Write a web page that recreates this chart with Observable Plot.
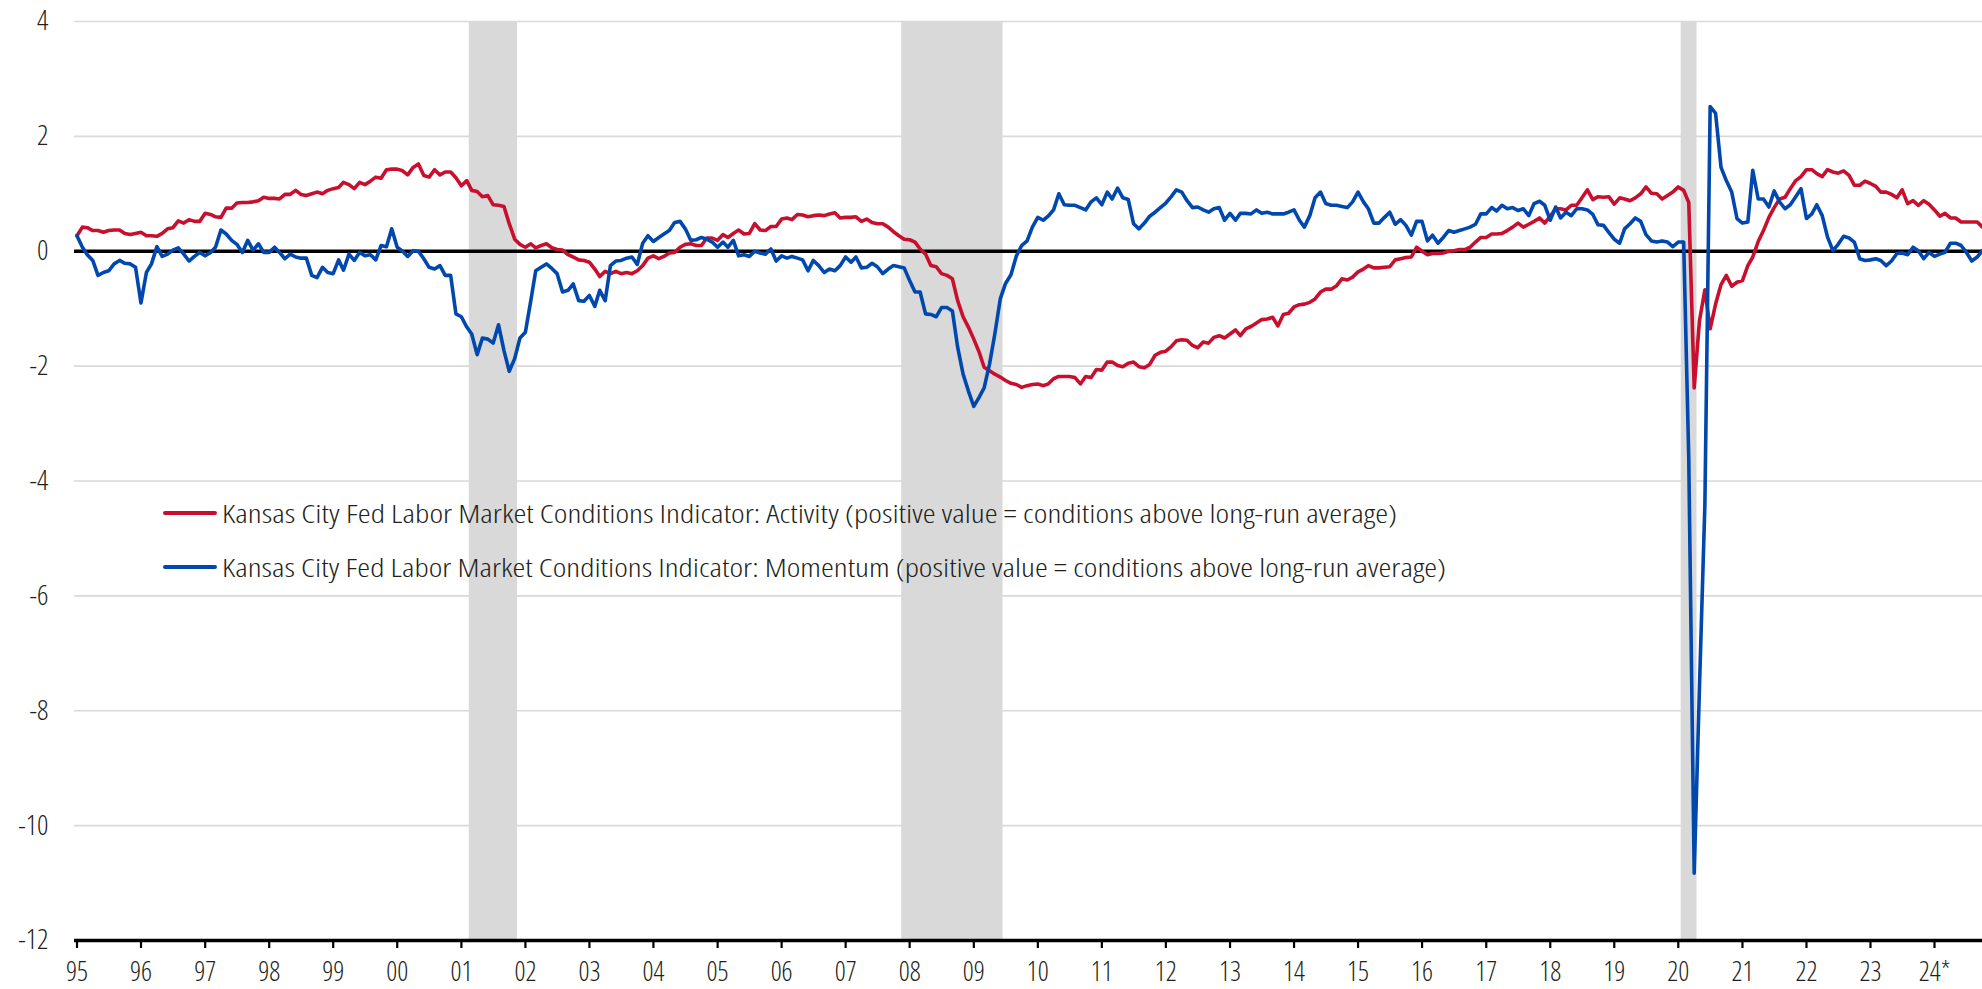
<!DOCTYPE html>
<html>
<head>
<meta charset="utf-8">
<script src="https://cdn.jsdelivr.net/npm/d3@7"></script>
<script src="https://cdn.jsdelivr.net/npm/@observablehq/plot@0.6"></script>
<style>
  html, body { margin: 0; padding: 0; background: #fff; }
  #wrap { position: relative; width: 1982px; height: 989px; overflow: hidden; }
  .font { font-family: "Open Sans", Roboto, "Liberation Sans", sans-serif; font-stretch: 87.5%; font-weight: 300; color: #231f20; }
  .sw { position: absolute; left: 163px; width: 54px; height: 4px; border-radius: 2px; }
  .lbl { position: absolute; left: 222px; font-size: 26px; line-height: 26px; white-space: nowrap; transform-origin: 0 50%; }
</style>
</head>
<body>
<div id="wrap"></div>
<script>
// ---- data (monthly, Jan 1995 - Oct 2024) ----
const startYear = 1995;
const activity = [
  0.27,0.42,0.41,0.36,0.36,0.33,0.36,0.37,0.37,0.31,0.29,0.31,        // 1995
  0.33,0.27,0.27,0.26,0.31,0.39,0.41,0.53,0.49,0.55,0.52,0.52,        // 1996
  0.66,0.64,0.60,0.59,0.75,0.75,0.84,0.85,0.85,0.86,0.88,0.94,        // 1997
  0.92,0.92,0.91,0.99,0.99,1.06,0.99,0.97,1.00,1.03,1.00,1.06,        // 1998
  1.09,1.11,1.20,1.16,1.09,1.20,1.16,1.22,1.29,1.27,1.42,1.43,        // 1999
  1.43,1.40,1.33,1.46,1.52,1.32,1.29,1.42,1.33,1.38,1.38,1.28,        // 2000
  1.14,1.23,1.06,1.04,0.95,0.97,0.81,0.80,0.78,0.48,0.21,0.12,        // 2001
  0.07,0.13,0.06,0.10,0.13,0.06,0.03,0.02,-0.06,-0.10,-0.15,-0.16,    // 2002
  -0.19,-0.31,-0.44,-0.35,-0.39,-0.35,-0.39,-0.37,-0.39,-0.34,-0.25,-0.12, // 2003
  -0.08,-0.13,-0.09,-0.03,-0.02,0.07,0.12,0.13,0.10,0.10,0.23,0.23,   // 2004
  0.19,0.29,0.24,0.31,0.37,0.30,0.31,0.48,0.37,0.36,0.43,0.43,        // 2005
  0.56,0.58,0.55,0.64,0.63,0.60,0.62,0.63,0.62,0.65,0.67,0.58,        // 2006
  0.59,0.59,0.60,0.52,0.56,0.50,0.48,0.48,0.42,0.34,0.27,0.21,        // 2007
  0.20,0.16,0.04,-0.05,-0.25,-0.27,-0.39,-0.42,-0.48,-0.86,-1.14,-1.32, // 2008
  -1.53,-1.76,-2.02,-2.08,-2.14,-2.19,-2.25,-2.30,-2.32,-2.37,-2.34,-2.32, // 2009
  -2.31,-2.34,-2.31,-2.22,-2.18,-2.18,-2.18,-2.20,-2.31,-2.18,-2.20,-2.06, // 2010
  -2.07,-1.93,-1.93,-1.99,-2.01,-1.95,-1.93,-2.01,-2.03,-1.97,-1.81,-1.76, // 2011
  -1.74,-1.66,-1.56,-1.54,-1.55,-1.64,-1.68,-1.58,-1.60,-1.50,-1.47,-1.51, // 2012
  -1.44,-1.37,-1.47,-1.35,-1.31,-1.25,-1.19,-1.18,-1.15,-1.30,-1.10,-1.08, // 2013
  -0.97,-0.93,-0.92,-0.89,-0.83,-0.71,-0.66,-0.66,-0.60,-0.48,-0.50,-0.45, // 2014
  -0.36,-0.31,-0.25,-0.29,-0.29,-0.28,-0.27,-0.15,-0.13,-0.11,-0.10,0.07,  // 2015
  0.00,-0.06,-0.04,-0.04,-0.03,0.00,0.01,0.03,0.03,0.07,0.16,0.24,    // 2016
  0.24,0.30,0.30,0.31,0.36,0.42,0.49,0.42,0.47,0.52,0.58,0.49,        // 2017
  0.61,0.74,0.74,0.72,0.80,0.80,0.93,1.07,0.90,0.95,0.94,0.95,        // 2018
  0.82,0.93,0.91,0.88,0.93,1.00,1.12,1.01,1.00,0.91,0.97,1.03,        // 2019
  1.12,1.06,0.85,-2.38,-1.21,-0.67,-1.35,-0.92,-0.58,-0.42,-0.61,-0.54, // 2020
  -0.51,-0.25,-0.10,0.17,0.36,0.59,0.76,0.91,0.94,1.09,1.23,1.30,     // 2021
  1.42,1.42,1.35,1.30,1.42,1.38,1.36,1.40,1.32,1.15,1.15,1.22,        // 2022
  1.18,1.13,1.03,1.03,0.99,0.93,1.07,0.83,0.88,0.80,0.88,0.82,        // 2023
  0.72,0.61,0.66,0.58,0.58,0.51,0.51,0.51,0.51,0.42                   // 2024
];
const momentum = [
  0.27,0.07,-0.06,-0.16,-0.42,-0.37,-0.34,-0.22,-0.16,-0.21,-0.22,-0.28, // 1995
  -0.90,-0.37,-0.22,0.08,-0.09,-0.05,0.02,0.06,-0.05,-0.17,-0.09,-0.02,  // 1996
  -0.08,-0.02,0.07,0.37,0.30,0.19,0.12,-0.02,0.19,0.02,0.13,-0.02,      // 1997
  -0.02,0.07,-0.02,-0.13,-0.05,-0.10,-0.12,-0.12,-0.42,-0.46,-0.28,-0.37, // 1998
  -0.39,-0.15,-0.33,-0.05,-0.16,-0.02,-0.08,-0.06,-0.15,0.10,0.08,0.39,  // 1999
  0.07,0.00,-0.09,0.01,0.00,-0.13,-0.28,-0.31,-0.25,-0.42,-0.42,-1.09,   // 2000
  -1.14,-1.32,-1.44,-1.80,-1.51,-1.53,-1.60,-1.28,-1.73,-2.09,-1.87,-1.51, // 2001
  -1.41,-0.86,-0.34,-0.28,-0.22,-0.30,-0.39,-0.71,-0.68,-0.57,-0.86,-0.87, // 2002
  -0.77,-0.96,-0.68,-0.86,-0.25,-0.17,-0.16,-0.12,-0.10,-0.23,0.14,0.27,  // 2003
  0.17,0.24,0.30,0.36,0.50,0.52,0.39,0.19,0.20,0.24,0.21,0.16,          // 2004
  0.07,0.16,0.07,0.19,-0.08,-0.06,-0.09,0.00,-0.03,-0.05,0.04,-0.17,    // 2005
  -0.08,-0.12,-0.09,-0.12,-0.15,-0.34,-0.16,-0.25,-0.37,-0.31,-0.34,-0.25, // 2006
  -0.10,-0.19,-0.10,-0.29,-0.28,-0.21,-0.27,-0.39,-0.31,-0.25,-0.27,-0.29, // 2007
  -0.51,-0.71,-0.71,-1.09,-1.10,-1.14,-0.98,-0.98,-1.04,-1.67,-2.14,-2.43, // 2008
  -2.70,-2.54,-2.38,-1.96,-1.44,-0.83,-0.56,-0.41,-0.08,0.10,0.18,0.42,  // 2009
  0.59,0.54,0.61,0.72,1.00,0.81,0.80,0.80,0.76,0.72,0.86,0.93,          // 2010
  0.81,1.03,0.91,1.10,0.93,0.90,0.48,0.39,0.49,0.61,0.68,0.76,          // 2011
  0.84,0.95,1.07,1.03,0.88,0.76,0.77,0.72,0.68,0.74,0.76,0.54,          // 2012
  0.66,0.54,0.66,0.66,0.65,0.72,0.66,0.68,0.65,0.65,0.65,0.68,          // 2013
  0.72,0.54,0.42,0.62,0.93,1.03,0.83,0.80,0.80,0.78,0.76,0.86,          // 2014
  1.03,0.86,0.74,0.49,0.49,0.59,0.68,0.47,0.55,0.45,0.28,0.52,          // 2015
  0.52,0.18,0.28,0.14,0.24,0.36,0.33,0.36,0.39,0.42,0.47,0.65,          // 2016
  0.65,0.76,0.70,0.80,0.74,0.76,0.71,0.74,0.62,0.83,0.87,0.80,          // 2017
  0.54,0.77,0.58,0.68,0.62,0.74,0.74,0.72,0.64,0.46,0.45,0.33,          // 2018
  0.21,0.14,0.39,0.48,0.58,0.52,0.29,0.18,0.16,0.18,0.16,0.08,          // 2019
  0.16,0.16,-3.60,-10.83,-7.60,-4.40,2.52,2.40,1.46,1.23,1.03,0.57,     // 2020
  0.49,0.51,1.41,0.91,0.91,0.77,1.05,0.86,0.74,0.81,0.95,1.09,          // 2021
  0.57,0.65,0.81,0.62,0.25,0.01,0.12,0.26,0.23,0.16,-0.13,-0.16,        // 2022
  -0.15,-0.13,-0.16,-0.25,-0.17,-0.04,-0.03,-0.06,0.07,0.01,-0.13,-0.02, // 2023
  -0.09,-0.05,-0.02,0.14,0.14,0.10,-0.02,-0.17,-0.10,0.01               // 2024
];
const recessionStarts = ["2001-03-01", "2007-12-01", "2020-02-01"];
const recessionEnds   = ["2001-12-01", "2009-07-01", "2020-05-01"];
const yTicks = [4, 2, 0, -2, -4, -6, -8, -10, -12];
const xTickYears = d3.range(1995, 2025);
const xTickLabels = ["95","96","97","98","99","00","01","02","03","04","05","06","07","08","09","10",
                     "11","12","13","14","15","16","17","18","19","20","21","22","23","24*"];
const seriesNames = [
  "Kansas City Fed Labor Market Conditions Indicator: Activity (positive value = conditions above long-run average)",
  "Kansas City Fed Labor Market Conditions Indicator: Momentum (positive value = conditions above long-run average)"
];
const seriesColors = ["#c8102e", "#0048ad"];

// ---- build tables ----
const monthDate = i => new Date(Date.UTC(startYear, i, 15));
const actData = activity.map((v, i) => ({date: monthDate(i), value: v}));
const momData = momentum.map((v, i) => ({date: monthDate(i), value: v}));
const recessions = recessionStarts.map((s, i) => ({start: new Date(s + "T00:00Z"), end: new Date(recessionEnds[i] + "T00:00Z")}));
const tickDates = xTickYears.map(y => new Date(Date.UTC(y, 0, 1)));
const labelOf = new Map(xTickYears.map((y, i) => [y, xTickLabels[i]]));

const chart = Plot.plot({
  width: 1982,
  height: 989,
  marginLeft: 74,
  marginRight: 0,
  marginTop: 21,
  marginBottom: 49,
  style: {fontFamily: '"Open Sans", Roboto, "Liberation Sans", sans-serif', fontSize: "28px", fontStretch: "87.5%", fontWeight: 300, color: "#231f20", background: "#fff"},
  x: {type: "utc", domain: [new Date(Date.UTC(1995, 0, 1)), new Date(Date.UTC(2024, 9, 15))]},
  y: {domain: [-12, 4]},
  marks: [
    Plot.ruleY(yTicks.filter(d => d !== 0 && d !== -12), {stroke: "#d9d9d9", strokeWidth: 1.6}),
    Plot.rect(recessions, {x1: "start", x2: "end", fill: "#d9d9d9"}),
    Plot.ruleY([0], {stroke: "#000", strokeWidth: 3.5}),
    Plot.lineY(actData, {x: "date", y: "value", stroke: seriesColors[0], strokeWidth: 3.6}),
    Plot.lineY(momData, {x: "date", y: "value", stroke: seriesColors[1], strokeWidth: 3.6}),
    Plot.ruleY([-12], {stroke: "#000", strokeWidth: 3.5}),
    Plot.axisX({ticks: tickDates, tickFormat: d => labelOf.get(d.getUTCFullYear()), tickSize: 8, tickPadding: 13, dx: 2.5, fontSize: 27, stroke: "#000", strokeWidth: 2.2, label: null}),
    Plot.axisY({ticks: yTicks, tickFormat: d => String(d), tickSize: 0, tickPadding: 26, label: null})
  ]
});

const wrap = document.getElementById("wrap");
wrap.appendChild(chart);

// ---- legend overlay ----
const legendRows = [{cy: 512.7, target: 1175}, {cy: 566.7, target: 1224}];
seriesNames.forEach((name, i) => {
  const sw = document.createElement("div");
  sw.className = "sw";
  sw.style.top = (legendRows[i].cy - 2) + "px";
  sw.style.background = seriesColors[i];
  wrap.appendChild(sw);
  const lbl = document.createElement("div");
  lbl.className = "lbl font";
  lbl.textContent = name;
  lbl.style.top = (legendRows[i].cy - 13) + "px";
  wrap.appendChild(lbl);
  const w = lbl.getBoundingClientRect().width;
  lbl.style.transform = `scaleX(${legendRows[i].target / w})`;
});
</script>
</body>
</html>
